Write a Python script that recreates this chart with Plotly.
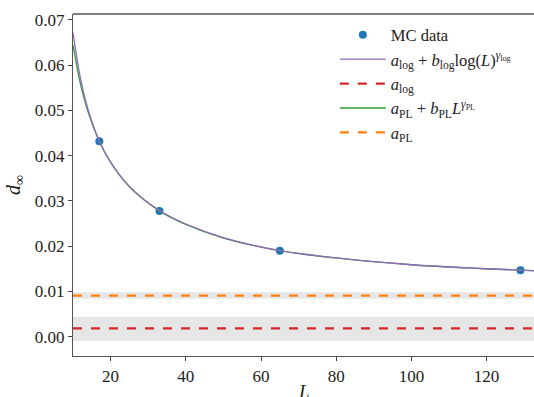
import plotly.graph_objects as go

# MC data
L_data = [17, 33, 65, 129]
d_data = [0.0432, 0.0278, 0.0190, 0.01466]
d_err = [0.0004, 0.0003, 0.0003, 0.0003]

# Fit curves
L_fit = [10, 12, 14, 17, 20, 25, 33, 40, 50, 65, 80, 100, 115, 129, 133]
d_log_fit = [0.0672, 0.0570, 0.0502, 0.0432, 0.0385, 0.0331, 0.0279, 0.0249,
             0.0219, 0.0190, 0.0174, 0.0159, 0.0152, 0.0147, 0.01455]
d_pl_fit = [0.0645, 0.0558, 0.0497, 0.0432, 0.0386, 0.0332, 0.0278, 0.0248,
            0.0218, 0.0190, 0.0174, 0.0159, 0.0152, 0.0147, 0.0146]

# Asymptotes and their uncertainty bands
a_log = 0.00185
a_log_band = [-0.00095, 0.00435]
a_pl = 0.0091
a_pl_band = [0.0084, 0.0098]

x_range = [10, 132.6]
y_range = [-0.00426, 0.0713]
y_ticks = [0.00, 0.01, 0.02, 0.03, 0.04, 0.05, 0.06, 0.07]
x_ticks = [20, 40, 60, 80, 100, 120]

FONT = "Liberation Serif"
blue, purple, red, green, orange = "#1f77b4", "#9467bd", "#d62728", "#2ca02c", "#ff7f0e"

fig = go.Figure()

# uncertainty bands
for band in (a_log_band, a_pl_band):
    fig.add_hrect(y0=band[0], y1=band[1], fillcolor="rgba(128,128,128,0.2)",
                  line_width=0, layer="below")

fig.add_trace(go.Scatter(
    x=L_data, y=d_data, mode="markers", name="MC data", legendrank=1,
    marker=dict(color=blue, size=8),
    error_y=dict(type="data", array=d_err, color=blue, thickness=1.5, width=0),
))
fig.add_trace(go.Scatter(
    x=L_fit, y=d_pl_fit, mode="lines", line_shape="spline", legendrank=4,
    name="<i>a</i><sub>PL</sub> + <i>b</i><sub>PL</sub><i>L</i><sup><i>γ</i><sub>PL</sub></sup>",
    line=dict(color=green, width=1.3),
))
fig.add_trace(go.Scatter(
    x=L_fit, y=d_log_fit, mode="lines", line_shape="spline", legendrank=2,
    name="<i>a</i><sub>log</sub> + <i>b</i><sub>log</sub>log(<i>L</i>)<sup><i>γ</i><sub>log</sub></sup>",
    line=dict(color=purple, width=1.3),
))
fig.add_trace(go.Scatter(
    x=x_range, y=[a_log, a_log], mode="lines", name="<i>a</i><sub>log</sub>",
    legendrank=3, line=dict(color=red, width=2.2, dash="dash"),
))
fig.add_trace(go.Scatter(
    x=x_range, y=[a_pl, a_pl], mode="lines", name="<i>a</i><sub>PL</sub>",
    legendrank=5, line=dict(color=orange, width=2.2, dash="dash"),
))

fig.update_layout(
    width=534, height=397,
    margin=dict(l=73, r=0, t=14, b=41, autoexpand=False),
    plot_bgcolor="white", paper_bgcolor="white",
    font=dict(family=FONT, size=17, color="#222"),
    showlegend=True,
    legend=dict(x=0.568, y=0.99, xanchor="left", yanchor="top",
                bgcolor="rgba(255,255,255,0)", font=dict(size=16.5),
                traceorder="normal", tracegroupgap=0, itemwidth=46),
    xaxis=dict(range=x_range, tickvals=x_ticks, ticks="outside", ticklen=4,
               tickcolor="#444", showline=True, linecolor="#555", linewidth=1.2,
               showgrid=False, zeroline=False, mirror=False, automargin=False),
    yaxis=dict(range=y_range, tickvals=y_ticks, tickformat=".2f", ticks="outside",
               ticklen=4, tickcolor="#444", showline=True, linecolor="#555",
               linewidth=1.2, showgrid=False, zeroline=False, automargin=False,
               title=dict(text="<i>d</i><sub>∞</sub>", standoff=8, font=dict(size=20))),
)
# x-axis title placed low, slightly clipped as in the reference
fig.add_annotation(text="<i>L</i>", xref="paper", yref="paper", x=0.5, y=0,
                   yanchor="top", yshift=-23, showarrow=False,
                   font=dict(size=19, family=FONT, color="#222"))
# top spine
fig.add_shape(type="line", xref="paper", yref="paper", x0=0, x1=1, y0=1, y1=1,
              line=dict(color="black", width=1))

fig.write_html("out.html")
